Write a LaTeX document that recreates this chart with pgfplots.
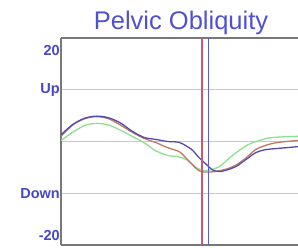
\documentclass[border=0pt]{standalone}
\usepackage{pgfplots}
\pgfplotsset{compat=1.18}
\usepackage{fontspec}
\setmainfont{Liberation Sans}
\usetikzlibrary{calc}
\definecolor{ttl}{RGB}{80,80,210}
\definecolor{lbl}{RGB}{70,70,200}
\definecolor{axgray}{RGB}{120,120,120}
\definecolor{gridgray}{RGB}{200,200,200}
\definecolor{cblue}{RGB}{85,75,175}
\definecolor{cred}{RGB}{190,120,100}
\definecolor{cgreen}{RGB}{140,225,140}
\definecolor{vred}{RGB}{200,90,110}
\definecolor{vblue}{RGB}{90,90,210}
\begin{document}
\begin{tikzpicture}
\begin{axis}[
  name=ax,
  scale only axis,
  width=237pt, height=207pt,
  xmin=0, xmax=100, ymin=-20, ymax=20,
  axis x line=box, axis y line=left,
  y axis line style={-},
  axis line style={draw=axgray, line width=1.8pt},
  xtick=\empty,
  ytick={10,0,-10},
  yticklabels={Up,{},Down},
  ymajorgrids,
  grid style={draw=gridgray, line width=1.4pt},
  major tick length=0pt,
  extra y ticks={17.5,-18.2},
  extra y tick labels={20,-20},
  extra y tick style={grid=none},
  yticklabel style={font=\fontsize{14.5}{14.5}\selectfont\bfseries, text=lbl, inner sep=1pt},
  clip=true,
]
\addplot[cgreen, line width=1.3pt, smooth] coordinates {
(0,0.2) (5,1.8) (10,3.1) (15,3.5) (20,3.2) (25,2.2) (30,1.0) (35,-0.2) (40,-1.8) (45,-2.7) (50,-3.0) (54,-3.8) (57,-5.0) (60,-5.6) (63,-5.5) (67,-4.8) (71,-3.2) (75,-1.8) (79,-0.6) (83,0.1) (88,0.7) (94,0.9) (100,1.0)};
\addplot[cred, line width=1.3pt, smooth] coordinates {
(0,1.0) (5,3.2) (10,4.4) (15,4.8) (20,4.4) (25,3.2) (30,1.8) (35,0.6) (40,-0.2) (45,-1.2) (50,-2.0) (54,-3.8) (57,-5.2) (59,-5.8) (62,-5.9) (65,-5.8) (70,-5.3) (74,-4.5) (78,-3.2) (82,-1.6) (86,-0.8) (90,-0.3) (95,0.0) (100,0.2)};
\addplot[cblue, line width=1.3pt, smooth] coordinates {
(0,1.3) (5,3.3) (10,4.5) (15,4.9) (20,4.6) (25,3.6) (30,2.0) (35,0.8) (40,0.4) (45,0.0) (50,-0.2) (55,-1.5) (58,-3.0) (61,-4.3) (64,-5.5) (67,-5.8) (70,-5.5) (74,-4.8) (78,-3.5) (82,-2.2) (86,-1.6) (90,-1.4) (95,-1.2) (100,-1.0)};
\addplot[vred, line width=1.6pt] coordinates {(59.6,-20) (59.6,20)};
\addplot[vblue, line width=1.6pt] coordinates {(62.2,-20) (62.2,20)};
\end{axis}
\node[anchor=base, text=ttl, font=\fontsize{25.5}{25.5}\selectfont, inner sep=0pt] at ($(ax.north)+(1.5pt,8pt)$) {Pelvic Obliquity};
\pgfresetboundingbox
\path ($(ax.south west)+(-61pt,-3pt)$) rectangle ($(ax.north east)+(0pt,38pt)$);
\end{tikzpicture}
\end{document}
